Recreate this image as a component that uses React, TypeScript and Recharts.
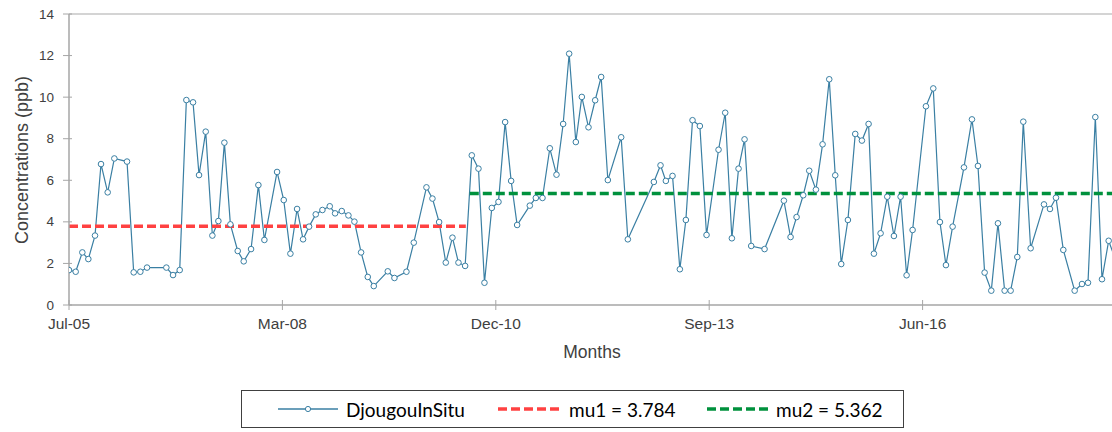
import React from "react"
import {
  LineChart,
  Line,
  XAxis,
  YAxis,
  ReferenceLine,
} from "recharts"

// months since Jul-05 and concentrations (ppb)
const months = [
  0, 1.0, 2.0, 2.9, 3.9, 4.8, 5.8, 6.8, 8.7, 9.7, 10.7, 11.7, 14.6, 15.6, 16.6,
  17.6, 18.6, 19.5, 20.5, 21.5, 22.4, 23.3, 24.2, 25.3, 26.2, 27.3, 28.4, 29.3,
  31.2, 32.2, 33.2, 34.2, 35.1, 36.0, 37.0, 38.0, 39.1, 39.9, 40.9, 41.9, 42.8,
  43.8, 44.8, 45.7, 47.8, 48.8, 50.6, 51.7, 53.6, 54.5, 55.5, 56.5, 57.5, 58.4,
  59.4, 60.4, 61.4, 62.3, 63.4, 64.4, 65.4, 66.3, 67.2, 69.1, 70.0, 71.0, 72.1,
  73.1, 74.1, 75.0, 76.0, 76.9, 77.9, 78.9, 79.8, 80.8, 82.8, 83.8, 87.7, 88.7,
  89.5, 90.5, 91.6, 92.5, 93.5, 94.6, 95.6, 97.4, 98.4, 99.4, 100.4, 101.3,
  102.3, 104.3, 107.2, 108.2, 109.1, 110.1, 111.0, 112.0, 113.0, 114.0, 114.9,
  115.8, 116.8, 117.9, 118.9, 119.9, 120.7, 121.7, 122.7, 123.7, 124.7, 125.6,
  126.5, 128.5, 129.6, 130.6, 131.5, 132.5, 134.2, 135.4, 136.3, 137.3, 138.3,
  139.3, 140.3, 141.2, 142.2, 143.1, 144.2, 146.2, 147.1, 148.0, 149.1, 150.8,
  151.9, 152.8, 153.9, 154.9, 155.9, 156.9,
]

const djougou = [
  1.68, 1.6, 2.53, 2.21, 3.34, 6.78, 5.42, 7.05, 6.9, 1.57, 1.6, 1.8, 1.8, 1.44,
  1.68, 9.86, 9.75, 6.25, 8.34, 3.34, 4.04, 7.81, 3.88, 2.6, 2.1, 2.69, 5.77,
  3.13, 6.4, 5.05, 2.47, 4.62, 3.16, 3.77, 4.36, 4.57, 4.75, 4.41, 4.52, 4.31,
  4.01, 2.53, 1.35, 0.91, 1.62, 1.3, 1.6, 3.0, 5.66, 5.12, 3.99, 2.04, 3.24,
  2.04, 1.88, 7.2, 6.56, 1.07, 4.67, 4.96, 8.8, 5.97, 3.85, 4.78, 5.15, 5.15,
  7.54, 6.27, 8.71, 12.09, 7.84, 10.01, 8.55, 9.85, 10.97, 6.01, 8.07, 3.16,
  5.92, 6.72, 5.97, 6.21, 1.72, 4.09, 8.89, 8.61, 3.37, 7.47, 9.25, 3.21, 6.56,
  7.97, 2.84, 2.69, 5.02, 3.27, 4.23, 5.28, 6.46, 5.55, 7.73, 10.86, 6.24, 1.97,
  4.09, 8.23, 7.91, 8.71, 2.47, 3.45, 5.21, 3.32, 5.21, 1.43, 3.61, 9.56, 10.42,
  3.99, 1.92, 3.77, 6.62, 8.93, 6.69, 1.56, 0.69, 3.93, 0.69, 0.69, 2.31, 8.82,
  2.73, 4.84, 4.62, 5.16, 2.65, 0.69, 1.01, 1.07, 9.04, 1.24, 3.09, 2.2,
]

// change point split: segment bounds (months) and means
const mu1Span = [0, 59.5]
const mu2Span = [60.1, 157.6]
const mu1 = 3.784
const mu2 = 5.362

const xTicks = [0, 32, 64, 96, 128]
const xTickLabels = ["Jul-05", "Mar-08", "Dec-10", "Sep-13", "Jun-16"]
const yTicks = [0, 2, 4, 6, 8, 10, 12, 14]

const seriesData = months.map((m, i) => ({ m, v: djougou[i] }))
const mu1Data = mu1Span.map((m) => ({ m, v: mu1 }))
const mu2Data = mu2Span.map((m) => ({ m, v: mu2 }))

const FONT = '"Liberation Sans", Arial, sans-serif'
const LEGEND_FONT = 'Lato, "Liberation Sans", sans-serif'
const AXIS = "#a6a6a6"
const TEXT = "#404040"
const BLUE = "#3a7fa3"
const RED = "#ff4141"
const GREEN = "#00913d"

function XTick({ x, y, payload }: any) {
  const idx = xTicks.indexOf(payload.value)
  return (
    <g>
      <line x1={x} x2={x} y1={y - 5} y2={y + 5} stroke={AXIS} strokeWidth={1} />
      <text
        x={x}
        y={y + 18}
        textAnchor="middle"
        dominantBaseline="central"
        fontFamily={FONT}
        fontSize={15.5}
        fill={TEXT}
      >
        {xTickLabels[idx] ?? ""}
      </text>
    </g>
  )
}

function YTick({ x, y, payload }: any) {
  return (
    <g>
      <line x1={x - 6} x2={x + 3} y1={y} y2={y} stroke={AXIS} strokeWidth={1} />
      <text
        x={x - 15}
        y={y}
        textAnchor="end"
        dominantBaseline="central"
        fontFamily={FONT}
        fontSize={13.5}
        fill={TEXT}
      >
        {payload.value}
      </text>
    </g>
  )
}

function LegendBox() {
  const item = (sample: React.ReactNode, label: string, left: number) => (
    <div style={{ position: "absolute", left, top: 0, height: "100%", display: "flex", alignItems: "center" }}>
      {sample}
      <span style={{ marginLeft: 8, fontFamily: LEGEND_FONT, fontSize: 19, color: "#000" }}>{label}</span>
    </div>
  )
  return (
    <div
      style={{
        position: "absolute",
        left: 241,
        top: 390,
        width: 663,
        height: 38,
        border: "1px solid #404040",
        boxSizing: "border-box",
        background: "#fff",
      }}
    >
      {item(
        <svg width={60} height={10}>
          <line x1={0} x2={60} y1={5} y2={5} stroke={BLUE} strokeWidth={1.3} />
          <circle cx={30} cy={5} r={2.6} fill="#fff" stroke={BLUE} strokeWidth={1} />
        </svg>,
        "DjougouInSitu",
        36
      )}
      {item(
        <svg width={63} height={10}>
          <line x1={0} x2={63} y1={5} y2={5} stroke={RED} strokeWidth={3.5} strokeDasharray="9 4" />
        </svg>,
        "mu1 = 3.784",
        256
      )}
      {item(
        <svg width={61} height={10}>
          <line x1={0} x2={61} y1={5} y2={5} stroke={GREEN} strokeWidth={3.5} strokeDasharray="9 4" />
        </svg>,
        "mu2 = 5.362",
        465
      )}
    </div>
  )
}

export default function App() {
  return (
    <div
      style={{
        position: "fixed",
        left: 0,
        top: 0,
        width: 1112,
        height: 432,
        overflow: "hidden",
        background: "#fff",
      }}
    >
      <LineChart
        width={1130}
        height={380}
        margin={{ top: 14, right: 10, left: 0, bottom: 0 }}
      >
        <XAxis
          dataKey="m"
          type="number"
          domain={[0, 157.6]}
          ticks={xTicks}
          allowDataOverflow
          height={75}
          tickSize={0}
          tickMargin={0}
          tickLine={false}
          tick={<XTick />}
          axisLine={{ stroke: AXIS, strokeWidth: 1.5 }}
          label={{
            content: () => (
              <text x={592} y={352} textAnchor="middle" dominantBaseline="central" fontFamily={FONT} fontSize={17.5} fill={TEXT}>
                Months
              </text>
            ),
          }}
        />
        <YAxis
          dataKey="v"
          type="number"
          domain={[0, 14]}
          ticks={yTicks}
          width={69}
          tickSize={0}
          tickMargin={0}
          tickLine={false}
          tick={<YTick />}
          axisLine={{ stroke: AXIS, strokeWidth: 1.5 }}
          label={{
            content: () => (
              <text
                x={22}
                y={160}
                transform="rotate(-90 22 160)"
                textAnchor="middle"
                dominantBaseline="central"
                fontFamily={FONT}
                fontSize={18}
                fill={TEXT}
              >
                Concentrations (ppb)
              </text>
            ),
          }}
        />
        <ReferenceLine y={14} stroke="#c6c6c6" strokeWidth={1.5} />
        <Line
          data={seriesData}
          dataKey="v"
          type="linear"
          stroke={BLUE}
          strokeWidth={1.2}
          dot={{ r: 2.8, stroke: BLUE, strokeWidth: 1, fill: "#fff" }}
          activeDot={false}
          isAnimationActive={false}
        />
        <Line
          data={mu1Data}
          dataKey="v"
          type="linear"
          stroke={RED}
          strokeWidth={3.5}
          strokeDasharray="9 4"
          dot={false}
          activeDot={false}
          isAnimationActive={false}
        />
        <Line
          data={mu2Data}
          dataKey="v"
          type="linear"
          stroke={GREEN}
          strokeWidth={3.5}
          strokeDasharray="9 4"
          dot={false}
          activeDot={false}
          isAnimationActive={false}
        />
      </LineChart>
      <LegendBox />
    </div>
  )
}
